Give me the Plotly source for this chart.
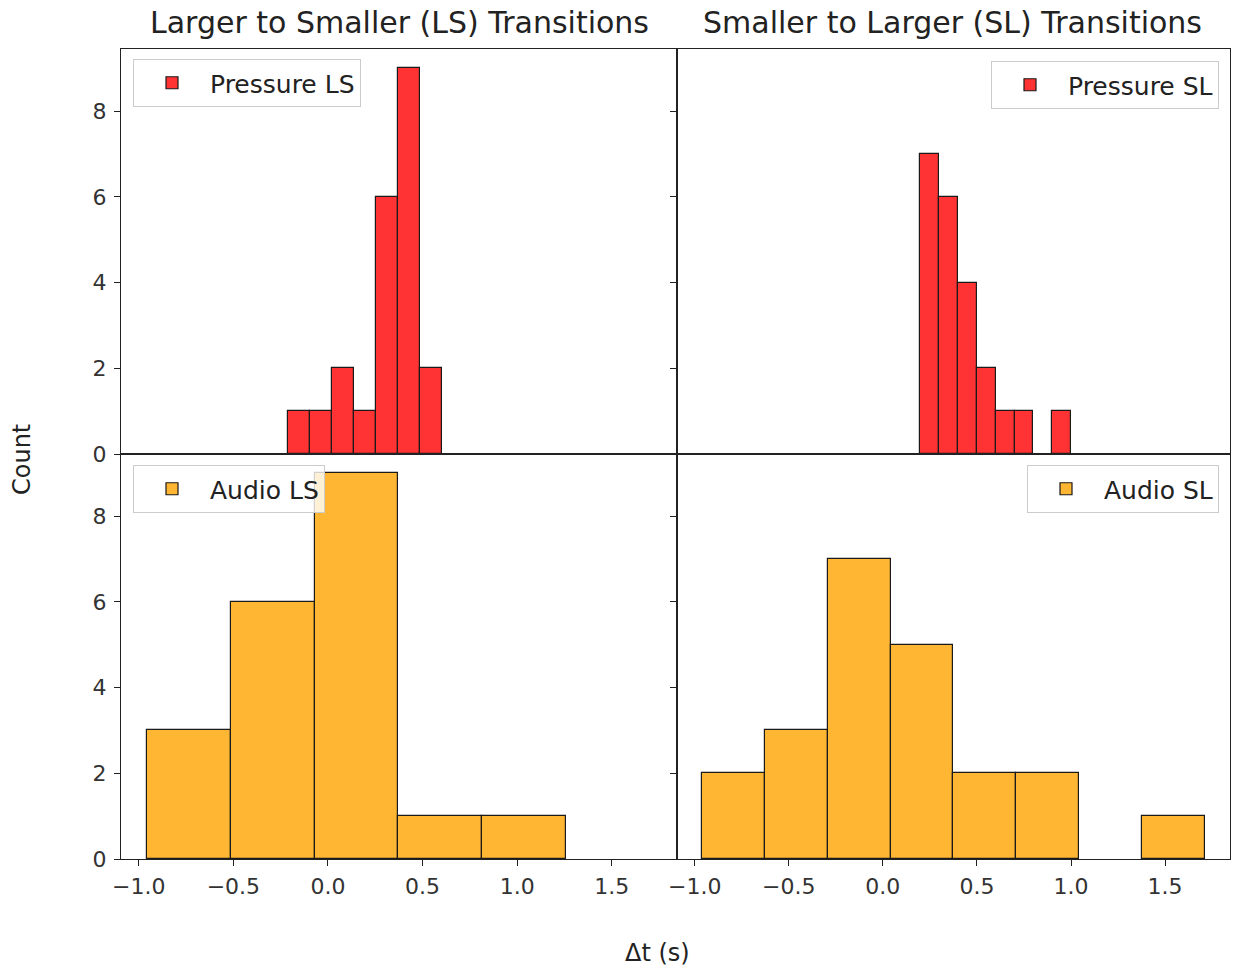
import plotly.graph_objects as go

# ---- data ----
pressure_ls_edges = [-0.210, -0.094, 0.022, 0.137, 0.253, 0.369, 0.485, 0.601]
pressure_ls_counts = [1, 1, 2, 1, 6, 9, 2]

pressure_sl_edges = [0.198, 0.298, 0.399, 0.499, 0.599, 0.700, 0.800, 0.900, 1.001]
pressure_sl_counts = [7, 6, 4, 2, 1, 1, 0, 1]

audio_ls_edges = [-0.954, -0.512, -0.070, 0.372, 0.814, 1.256]
audio_ls_counts = [3, 6, 9, 1, 1]

audio_sl_edges = [-0.961, -0.627, -0.293, 0.041, 0.375, 0.709, 1.043, 1.377, 1.711]
audio_sl_counts = [2, 3, 7, 5, 2, 2, 0, 1]

x_ticks = [-1.0, -0.5, 0.0, 0.5, 1.0, 1.5]
x_tick_labels = ["\u22121.0", "\u22120.5", "0.0", "0.5", "1.0", "1.5"]
y_ticks = [0, 2, 4, 6, 8]

titles = ["Larger to Smaller (LS) Transitions", "Smaller to Larger (SL) Transitions"]

RED = "rgba(255,0,0,0.8)"
ORANGE = "rgba(255,165,0,0.8)"
FONT = "DejaVu Sans"
W, H = 1233, 970


def centers(edges):
    return [(a + b) / 2 for a, b in zip(edges[:-1], edges[1:])]


def widths(edges):
    return [b - a for a, b in zip(edges[:-1], edges[1:])]


panels = [
    ("Pressure LS", pressure_ls_edges, pressure_ls_counts, RED, "x", "y", "legend"),
    ("Pressure SL", pressure_sl_edges, pressure_sl_counts, RED, "x2", "y2", "legend2"),
    ("Audio LS", audio_ls_edges, audio_ls_counts, ORANGE, "x3", "y3", "legend3"),
    ("Audio SL", audio_sl_edges, audio_sl_counts, ORANGE, "x4", "y4", "legend4"),
]

fig = go.Figure()
for name, edges, counts, color, xa, ya, lg in panels:
    fig.add_trace(go.Bar(
        x=centers(edges), y=counts, width=widths(edges), name=name,
        marker=dict(color=color,
                    line=dict(color="#1a1a1a", width=[1.2 if c > 0 else 0 for c in counts])),
        xaxis=xa, yaxis=ya, legend=lg, showlegend=True,
    ))

xl = [121 / W, 677 / W]
xr = [677 / W, 1230 / W]
yt = [1 - 454 / H, 1 - 49 / H]
yb = [1 - 859 / H, 1 - 454 / H]

xrange_ = [-1.094, 1.845]
yrange_ = [0, 9.45]

common_axis = dict(showline=True, linecolor="#222", linewidth=1, mirror=True,
                   showgrid=False, zeroline=False, ticks="outside", ticklen=6,
                   automargin=False,
                   tickcolor="#222", tickfont=dict(family=FONT, size=22, color="#333"))

def xaxis(domain, anchor, labels):
    d = dict(common_axis)
    d.update(domain=domain, anchor=anchor, range=xrange_, tickvals=x_ticks,
             ticktext=x_tick_labels, showticklabels=labels, ticklabelstandoff=2)
    if not labels:
        d["ticks"] = ""
    return d

def yaxis(domain, anchor, labels):
    d = dict(common_axis)
    d.update(domain=domain, anchor=anchor, range=yrange_, tickvals=y_ticks,
             showticklabels=labels, ticklabelstandoff=3)
    return d

def legend(x, y, xanchor):
    return dict(x=x, y=y, xanchor=xanchor, yanchor="top", xref="paper", yref="paper",
                bgcolor="rgba(255,255,255,0.8)", bordercolor="#cccccc", borderwidth=1,
                font=dict(family=FONT, size=25, color="#222"), itemwidth=66)

def ann(text, x, y, size, angle=0):
    return dict(text=text, x=x / W, y=1 - y / H, xref="paper", yref="paper",
                xanchor="center", yanchor="middle", showarrow=False, textangle=angle,
                font=dict(family=FONT, size=size, color="#222"))

fig.update_layout(
    width=W, height=H, margin=dict(l=0, r=0, t=0, b=0, autoexpand=False), autosize=False,
    paper_bgcolor="white", plot_bgcolor="white", bargap=0,
    xaxis=xaxis(xl, "y", False), yaxis=yaxis(yt, "x", True),
    xaxis2=xaxis(xr, "y2", False), yaxis2=yaxis(yt, "x2", False),
    xaxis3=xaxis(xl, "y3", True), yaxis3=yaxis(yb, "x3", True),
    xaxis4=xaxis(xr, "y4", True), yaxis4=yaxis(yb, "x4", False),
    legend=legend(133 / W, 1 - 59 / H, "left"),
    legend2=legend(1219 / W, 1 - 61 / H, "right"),
    legend3=legend(133 / W, 1 - 465 / H, "left"),
    legend4=legend(1219 / W, 1 - 465 / H, "right"),
    annotations=[
        ann(titles[0], 399, 22, 30),
        ann(titles[1], 952, 22, 30),
        ann("Count", 22, 460, 24, -90),
        ann("\u0394t (s)", 657, 953, 24),
    ],
)

fig.write_html("out.html")
